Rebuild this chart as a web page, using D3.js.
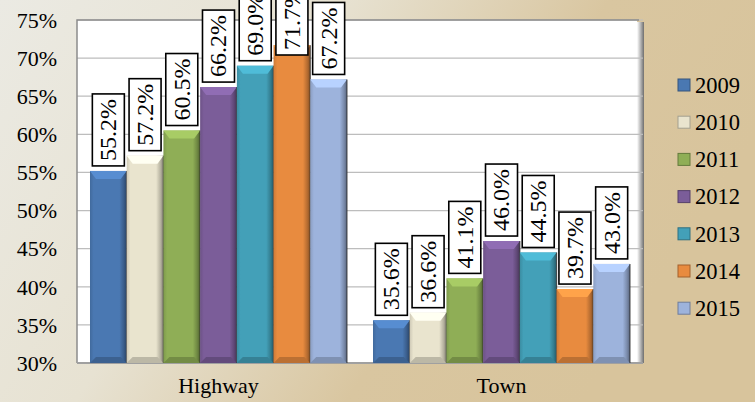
<!DOCTYPE html>
<html><head><meta charset="utf-8">
<script src="https://cdn.jsdelivr.net/npm/d3@7"></script>
<style>html,body{margin:0;padding:0;overflow:hidden}svg{display:block}</style>
</head><body>
<script>
const categories = ["Highway", "Town"];
const years = ["2009", "2010", "2011", "2012", "2013", "2014", "2015"];
const highway = [0.552, 0.572, 0.605, 0.662, 0.690, 0.717, 0.672];
const town = [0.356, 0.366, 0.411, 0.460, 0.445, 0.397, 0.430];
const yTicks = [0.30, 0.35, 0.40, 0.45, 0.50, 0.55, 0.60, 0.65, 0.70, 0.75];
const colors = ["#4a78b2", "#e9e4ce", "#8fae56", "#7b5d99", "#43a0b8", "#e88b3f", "#9db3dc"];

(function () {
const W = 755, H = 402;
const font = "'Liberation Serif', 'Times New Roman', serif";
const svg = d3.select("body").append("svg").attr("width", W).attr("height", H);
const defs = svg.append("defs");

const bg = defs.append("linearGradient").attr("id", "bg").attr("x1", 0).attr("y1", 0).attr("x2", 1).attr("y2", 0.35);
bg.append("stop").attr("offset", 0).attr("stop-color", "#ebeae3");
bg.append("stop").attr("offset", 0.4).attr("stop-color", "#e7e2d2");
bg.append("stop").attr("offset", 0.72).attr("stop-color", "#d9c6a0");
bg.append("stop").attr("offset", 1).attr("stop-color", "#d8c49c");
svg.append("rect").attr("width", W).attr("height", H).attr("fill", "url(#bg)");

const shadow = defs.append("linearGradient").attr("id", "shadowR").attr("x1", 0).attr("x2", 1);
shadow.append("stop").attr("offset", 0).attr("stop-color", "#ffffff");
shadow.append("stop").attr("offset", 0.5).attr("stop-color", "#b8b8b8");
shadow.append("stop").attr("offset", 1).attr("stop-color", "#6e6e6e");

colors.forEach((c, i) => {
  const g = defs.append("linearGradient").attr("id", "bar" + i).attr("x1", 0).attr("x2", 1);
  const base = d3.color(c);
  g.append("stop").attr("offset", 0).attr("stop-color", base.darker(0.35));
  g.append("stop").attr("offset", 0.1).attr("stop-color", base);
  g.append("stop").attr("offset", 0.8).attr("stop-color", base);
  g.append("stop").attr("offset", 0.92).attr("stop-color", base.darker(0.7));
  g.append("stop").attr("offset", 1).attr("stop-color", base.darker(1.6));
});

const pL = 77, pR = 643, pT = 20, pB = 363;
const y = d3.scaleLinear().domain([0.30, 0.75]).range([pB, pT]);
const x0 = d3.scaleBand().domain(categories).range([pL, pR]).paddingInner(0.0919).paddingOuter(0.0459);
const x1 = d3.scaleBand().domain(years).range([0, x0.bandwidth()]).padding(0);

// plot area
svg.append("rect").attr("x", pR - 6).attr("y", pT + 2).attr("width", 7).attr("height", pB - pT - 2).attr("fill", "url(#shadowR)");
svg.append("rect").attr("x", pL).attr("y", pT).attr("width", pR - 6 - pL).attr("height", pB - pT).attr("fill", "#ffffff");
svg.append("g").selectAll("line").data(yTicks).join("line")
  .attr("x1", pL).attr("x2", pR).attr("y1", d => y(d)).attr("y2", d => y(d))
  .attr("stroke", "#bdbdbd").attr("stroke-width", 1.2);
svg.append("path").attr("d", `M${pL},${pB}V${pT}H${pR - 4}`).attr("fill", "none").attr("stroke", "#8c8c8c").attr("stroke-width", 1.5);
svg.append("line").attr("x1", pL).attr("x2", pR).attr("y1", pB).attr("y2", pB).attr("stroke", "#a0a0a0").attr("stroke-width", 2);

// y axis
const yAxis = d3.axisLeft(y).tickValues(yTicks).tickFormat(d3.format(".0%")).tickSize(0).tickPadding(0);
const ya = svg.append("g").attr("transform", `translate(57,0)`).call(yAxis);
ya.select(".domain").remove();
ya.selectAll("text").attr("font-family", font).attr("font-size", 22).attr("fill", "#000").attr("dy", "0.33em");

// x axis
const xAxis = d3.axisBottom(x0).tickSize(0).tickPadding(0);
const xa = svg.append("g").attr("transform", `translate(0,${pB + 14})`).call(xAxis);
xa.select(".domain").remove();
xa.selectAll("text").attr("font-family", font).attr("font-size", 22).attr("fill", "#000").attr("dy", "0.71em");

// bars
const data = [];
categories.forEach((cat, ci) => {
  const vals = ci === 0 ? highway : town;
  years.forEach((yr, i) => data.push({ cat, yr, i, v: vals[i] }));
});

const bev = 6;
const bars = svg.append("g").selectAll("g").data(data).join("g")
  .attr("transform", d => `translate(${x0(d.cat) + x1(d.yr)},0)`);
const bw = x1.bandwidth();
bars.append("rect").attr("x", 0).attr("y", d => y(d.v)).attr("width", bw).attr("height", d => pB - y(d.v))
  .attr("fill", d => `url(#bar${d.i})`);
bars.append("path").attr("d", d => {
  const t = y(d.v);
  return `M0,${t}H${bw}L${bw - bev},${t + bev + 2}H${bev}Z`;
}).attr("fill", d => d3.color(colors[d.i]).brighter(0.45));
bars.append("path").attr("d", d => `M0,${pB}H${bw}L${bw - bev},${pB - bev}H${bev}Z`)
  .attr("fill", d => d3.color(colors[d.i]).darker(0.6));
bars.append("line").attr("x1", bw).attr("x2", bw).attr("y1", d => y(d.v)).attr("y2", pB)
  .attr("stroke", "#2a2a2a").attr("stroke-width", 1.2).attr("opacity", 0.7);

// labels
const fmt = d3.format(".1%");
const lab = bars.append("g");
lab.each(function (d) {
  const g = d3.select(this);
  const t = g.append("text").text(fmt(d.v)).attr("font-family", font).attr("font-size", 24).attr("fill", "#000");
  const len = t.node().getComputedTextLength();
  const bh = len + 10, bwid = 32;
  let boxBottom = y(d.v) - 5;
  if (boxBottom - bh < -17) boxBottom = -17 + bh;
  const cx = bw / 2;
  g.insert("rect", "text").attr("x", cx - bwid / 2).attr("y", boxBottom - bh).attr("width", bwid).attr("height", bh)
    .attr("fill", "#fff").attr("stroke", "#000").attr("stroke-width", 1.6);
  t.attr("text-anchor", "middle").attr("dy", "0.33em")
    .attr("transform", `translate(${cx},${boxBottom - bh / 2}) rotate(-90)`);
});

// legend
const leg = svg.append("g").selectAll("g").data(years).join("g")
  .attr("transform", (d, i) => `translate(678,${85 + i * 37.2})`);
leg.append("rect").attr("x", 0).attr("y", -6).attr("width", 12).attr("height", 12)
  .attr("fill", (d, i) => colors[i]).attr("stroke", (d, i) => d3.color(colors[i]).darker(1)).attr("stroke-width", 1);
leg.append("text").attr("x", 17).attr("dy", "0.35em").text(d => d)
  .attr("font-family", font).attr("font-size", 22.5).attr("fill", "#000");
})();
</script>
</body></html>
